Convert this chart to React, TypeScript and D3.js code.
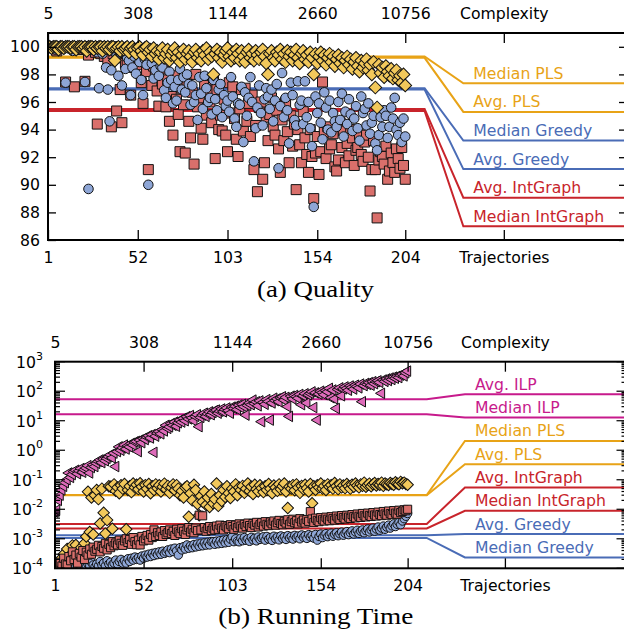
import React, { useEffect, useRef } from 'react';
import * as d3 from 'd3';

// trajectory index ticks (bottom) and complexity labels (top)
const trajTicks = [1, 52, 103, 154, 204];
const complexityLabels = ['5', '308', '1144', '2660', '10756'];
const nameTick = 260;

// (a) quality in %, one value per trajectory 1..204
const qualityPLS = [
  100, 100, 99.9, 100, 100, 100, 99.8, 100, 100, 99.9, 100, 100,
  100, 99.9, 100, 100, 99.8, 100, 100, 100, 99.9, 100, 99.7, 100,
  100, 100, 99.8, 100, 99.9, 100, 100, 99.7, 100, 99.9, 100, 99.8,
  100, 100, 99.0, 99.9, 100, 99.7, 100, 99.8, 99.9, 100, 99.6, 99.9,
  100, 99.8, 99.5, 99.9, 100, 99.7, 99.4, 99.9, 100, 99.6, 99.8, 99.3,
  99.9, 99.5, 99.7, 99.1, 99.6, 99.9, 99.2, 99.5, 99.8, 99.0, 99.4, 99.7,
  99.9, 99.2, 99.6, 98.9, 99.4, 99.8, 99.1, 99.5, 99.7, 99.3, 98.9, 99.6,
  99.8, 99.2, 99.5, 99.0, 99.7, 99.4, 99.9, 99.1, 99.6, 99.3, 98.0, 99.5,
  99.8, 99.2, 99.6, 98.9, 99.4, 99.7, 99.9, 99.3, 99.0, 99.6, 99.2, 99.8,
  99.5, 99.0, 99.7, 99.3, 98.9, 99.6, 99.8, 99.2, 99.5, 99.0, 99.7, 99.4,
  99.1, 99.6, 99.8, 99.3, 98.8, 98.0, 99.5, 99.7, 99.2, 99.0, 99.6, 99.4,
  99.8, 99.1, 99.5, 98.9, 99.7, 99.3, 99.6, 99.0, 99.4, 99.8, 99.2, 98.8,
  99.5, 99.7, 99.1, 99.4, 98.9, 99.6, 99.2, 98.0, 99.5, 98.8, 99.3, 99.6,
  99.0, 99.4, 98.7, 99.2, 99.5, 98.9, 99.3, 98.6, 99.1, 99.4, 98.8, 99.2,
  98.5, 99.0, 99.3, 98.7, 99.1, 98.4, 98.9, 99.2, 98.6, 98.2, 99.0, 98.5,
  98.8, 99.1, 98.3, 98.7, 98.0, 98.9, 97.05, 95.6, 98.7, 98.1, 98.5, 97.8,
  98.6, 98.2, 97.9, 98.4, 97.7, 98.1, 98.3, 97.6, 97.9, 97.4, 98.0, 97.2,
];
const qualityGreedy = [
  100, 100, 100, 100, 99.8, 100, 100, 100, 100, 99.9, 97.4, 100,
  100, 100, 99.7, 100, 100, 100, 99.9, 100, 100, 97.45, 100, 89.7,
  100, 99.8, 100, 100, 99.6, 97.0, 100, 99.5, 100, 98.5, 96.9, 94.6,
  98.3, 99.7, 100, 99.4, 97.9, 99.6, 97.2, 99.8, 98.4, 99.2, 99.0, 96.5,
  98.5, 99.3, 98.05, 99.6, 98.9, 97.6, 96.5, 99.1, 98.7, 90.0, 99.5, 98.8,
  97.7, 98.3, 99.2, 97.9, 98.6, 98.5, 96.85, 96.3, 97.4, 98.2, 97.6, 95.9,
  97.1, 96.1, 97.6, 98.4, 96.9, 97.8, 96.7, 98.0, 97.3, 95.8, 97.2, 96.0,
  96.5, 94.7, 97.8, 96.6, 95.5, 97.9, 97.0, 96.0, 96.3, 95.1, 97.6, 96.2,
  95.4, 96.9, 97.3, 94.9, 96.5, 95.7, 96.1, 95.3, 97.8, 96.4, 94.8, 94.2,
  95.9, 95.8, 97.1, 93.1, 96.7, 95.0, 96.3, 97.8, 96.0, 91.7, 94.1, 95.6,
  97.2, 95.2, 94.3, 96.2, 97.0, 96.4, 95.5, 96.9, 94.6, 96.1, 97.3, 91.2,
  95.7, 98.1, 94.9, 96.3, 95.4, 93.0, 97.4, 96.5, 94.7, 94.3, 97.5, 95.8,
  96.1, 94.4, 97.5, 94.9, 96.0, 94.1, 92.8, 88.4, 96.4, 95.2, 95.9, 94.5,
  93.3, 96.7, 95.6, 94.0, 96.1, 93.8, 95.2, 94.6, 94.2, 96.0, 94.7, 96.6,
  93.5, 95.3, 94.4, 96.2, 95.1, 93.9, 94.8, 95.7, 94.1, 93.2, 96.4, 95.2,
  95.5, 94.3, 95.9, 93.7, 94.5, 95.0, 93.0, 92.5, 93.6, 94.9, 94.2, 95.4,
  95.0, 93.4, 94.2, 95.6, 94.8, 96.3, 94.0, 93.6, 94.5, 93.1, 94.8, 93.5,
];
const qualityIntGraph = [
  100, 100, 100, 100, 100, 99.7, 100, 100, 100, 100, 97.45, 100,
  100, 100, 100, 97.1, 100, 100, 99.8, 100, 100, 97.5, 100, 99.4,
  100, 100, 100, 99.6, 94.4, 100, 99.5, 100, 99.3, 100, 99.1, 99.8,
  94.2, 99.5, 100, 95.35, 99.2, 96.9, 94.5, 99.6, 98.8, 99.0, 99.4, 96.5,
  99.2, 98.5, 99.0, 99.5, 98.7, 97.4, 95.9, 99.0, 98.2, 91.1, 99.3, 97.2,
  98.6, 97.9, 96.8, 95.7, 98.4, 97.3, 98.9, 95.65, 97.6, 94.6, 96.4, 93.6,
  97.9, 96.2, 95.1, 92.4, 97.0, 95.8, 92.3, 97.5, 94.6, 93.4, 96.7, 91.5,
  98.0, 95.65, 96.3, 94.1, 93.3, 97.2, 95.05, 96.8, 96.0, 94.5, 97.6, 91.9,
  96.9, 94.0, 95.05, 93.9, 96.2, 93.6, 92.4, 97.4, 95.2, 97.1, 94.8, 93.3,
  92.05, 95.5, 96.9, 93.9, 97.0, 94.6, 95.9, 93.5, 96.5, 91.1, 94.3, 89.5,
  95.6, 96.0, 90.4, 91.6, 94.9, 93.2, 95.1, 96.3, 94.2, 93.6, 95.4, 92.6,
  90.9, 94.7, 93.2, 96.0, 93.85, 91.6, 95.0, 92.8, 94.4, 89.65, 94.0, 92.9,
  91.6, 95.3, 93.4, 92.2, 90.9, 94.0, 92.05, 89.0, 92.3, 93.5, 90.75, 92.4,
  97.45, 93.8, 91.9, 94.2, 92.6, 92.9, 93.7, 91.3, 91.0, 91.8, 94.5, 92.7,
  93.9, 91.6, 93.0, 92.1, 94.0, 93.4, 91.4, 92.5, 92.7, 93.6, 92.2, 91.7,
  93.1, 93.6, 92.0, 89.55, 91.1, 93.2, 91.1, 87.6, 91.8, 92.4, 92.05, 91.5,
  92.8, 90.4, 91.0, 92.3, 91.6, 90.9, 92.6, 91.9, 91.2, 92.7, 91.4, 90.4,
];

// (b) running time in seconds, one value per trajectory 1..204
const timeILP = [
  0.008, 0.0093, 0.02, 0.03, 0.045, 0.06, 0.08, 0.1, 0.17, 0.12, 0.15, 0.19,
  0.21, 0.16, 0.2, 0.24, 0.18, 0.22, 0.25, 0.3, 0.17, 0.26, 0.32, 0.28,
  0.36, 0.42, 0.47, 0.38, 0.5, 0.44, 0.53, 0.6, 0.7, 0.55, 0.8, 0.28,
  0.9, 1.3, 1.0, 1.2, 1.5, 1.1, 1.4, 1.3, 1.7, 1.5, 1.9, 2.0,
  0.9, 2.2, 1.8, 2.5, 2.3, 2.8, 3.1, 2.6, 3.4, 0.85, 3.0, 3.8,
  4.3, 3.6, 5.0, 4.5, 7.0, 5.5, 6.2, 8.0, 7.0, 9.0, 6.5, 8.5,
  10.5, 9.0, 12, 10, 13.7, 11.5, 15, 12.5, 10, 14, 16, 6.3,
  13, 15.5, 18, 14, 17, 20, 16, 19, 22, 23, 18, 21,
  25, 20, 24, 27, 22, 18, 29, 26, 31, 24, 34, 28,
  36, 30, 15.5, 33, 40, 35, 50, 38, 44, 32, 47, 9.3,
  42, 36, 52, 45, 10.5, 40, 58, 48, 55, 44, 60, 65,
  50, 62, 30, 14, 68, 55, 72, 65, 58, 78, 35, 70,
  82, 40, 75, 85, 95, 28, 88, 10.5, 80, 100, 90, 76,
  105, 95, 125, 60, 110, 55, 26, 115, 130, 70, 120, 140,
  125, 108, 150, 135, 118, 160, 145, 130, 175, 44, 155, 185,
  170, 195, 160, 210, 180, 210, 225, 200, 85, 240, 215, 260,
  230, 280, 250, 300, 275, 320, 290, 350, 380, 330, 420, 480,
];
const timePLS = [
  1.2e-4, 1.5e-4, 1.1e-4, 2e-4, 1.3e-4, 3e-4, 1.6e-4, 4.5e-4, 2.5e-4, 1.8e-4, 6e-4, 3.5e-4,
  6.2e-4, 2.8e-4, 4e-4, 5e-4, 3e-4, 7e-4, 1.2e-3, 0.039, 1.7e-3, 0.025, 1.4e-3, 0.03,
  0.045, 0.022, 3.3e-3, 0.05, 7.6e-3, 1.5e-3, 4.3e-3, 0.06, 0.058, 2.2e-3, 0.07, 0.042,
  0.055, 0.035, 0.065, 0.05, 0.072, 2.1e-3, 0.045, 0.06, 0.038, 0.075, 0.055, 0.068,
  0.048, 0.076, 0.058, 0.04, 0.066, 0.05, 0.072, 0.035, 0.06, 0.045, 0.07, 0.052,
  0.065, 0.04, 0.058, 0.074, 0.048, 0.062, 0.036, 0.055, 0.07, 0.044, 0.066, 0.05,
  0.03, 0.042, 0.025, 0.055, 0.06, 5.6e-3, 0.035, 0.02, 0.068, 0.045, 0.015, 6.3e-3,
  0.028, 0.018, 0.04, 0.014, 0.025, 0.012, 0.033, 0.016, 0.022, 0.075, 0.013, 0.03,
  0.019, 0.045, 0.026, 0.06, 0.035, 0.024, 0.05, 0.04, 0.07, 0.03, 0.055, 0.045,
  0.062, 0.036, 0.05, 0.075, 0.042, 0.058, 0.033, 0.068, 0.048, 0.04, 0.065, 0.052,
  0.038, 0.06, 0.045, 0.072, 0.05, 0.035, 0.064, 0.055, 0.042, 0.07, 0.048, 0.06,
  0.075, 0.04, 0.011, 0.058, 0.05, 0.066, 0.044, 0.07, 0.055, 0.036, 0.062, 0.048,
  0.068, 0.052, 0.04, 0.072, 0.016, 0.06, 0.046, 0.065, 0.055, 0.075, 0.05, 0.062,
  0.045, 0.07, 0.058, 0.066, 0.05, 0.078, 0.06, 0.048, 0.07, 0.055, 0.064, 0.052,
  0.072, 0.06, 0.05, 0.068, 0.058, 0.075, 0.064, 0.055, 0.07, 0.062, 0.08, 0.058,
  0.066, 0.074, 0.06, 0.07, 0.078, 0.064, 0.072, 0.068, 0.08, 0.062, 0.075, 0.07,
  0.066, 0.078, 0.072, 0.068, 0.082, 0.074, 0.07, 0.085, 0.076, 0.08, 0.072, 0.068,
];
const timeIntGraph = [
  1.1e-4, 1.3e-4, 1.2e-4, 1.6e-4, 1.2e-4, 2.2e-4, 1.4e-4, 1.3e-4, 2.5e-4, 1.8e-4, 3.6e-4, 2e-4,
  2.8e-4, 1.5e-4, 3.2e-4, 2.4e-4, 4e-4, 2e-4, 3.5e-4, 2.8e-4, 4.5e-4, 3e-4, 5.2e-4, 3.8e-4,
  4.4e-4, 6e-4, 3.6e-4, 5.5e-4, 4.8e-4, 7e-4, 4.2e-4, 6.5e-4, 5e-4, 8e-4, 5.8e-4, 7.2e-4,
  6.2e-4, 9e-4, 7e-4, 6e-4, 8.5e-4, 1.0e-3, 7.5e-4, 9.5e-4, 6.5e-4, 1.1e-3, 8e-4, 6.3e-4,
  9e-4, 6.2e-4, 1.2e-3, 8.5e-4, 1.0e-3, 1.3e-3, 9e-4, 1.4e-3, 1.1e-3, 2.0e-3, 1.2e-3, 1.6e-3,
  1.3e-3, 1.7e-3, 1.2e-3, 1.9e-3, 1.4e-3, 1.6e-3, 2.0e-3, 1.5e-3, 1.8e-3, 1.3e-3, 2.1e-3, 1.7e-3,
  1.5e-3, 2.2e-3, 1.8e-3, 1.4e-3, 2.0e-3, 2.4e-3, 1.7e-3, 2.1e-3, 1.6e-3, 2.3e-3, 1.9e-3, 6.3e-3,
  2.0e-3, 6e-3, 2.4e-3, 1.8e-3, 2.2e-3, 2.6e-3, 1.9e-3, 2.3e-3, 2.0e-3, 2.7e-3, 2.1e-3, 2.9e-3,
  2.3e-3, 2.0e-3, 2.8e-3, 2.5e-3, 2.2e-3, 3.0e-3, 2.6e-3, 2.1e-3, 2.9e-3, 2.4e-3, 3.2e-3, 2.7e-3,
  2.3e-3, 3.1e-3, 2.6e-3, 3.4e-3, 2.8e-3, 2.4e-3, 3.3e-3, 2.9e-3, 3.6e-3, 2.5e-3, 3.0e-3, 3.5e-3,
  2.7e-3, 3.8e-3, 3.1e-3, 2.8e-3, 3.7e-3, 3.2e-3, 4.0e-3, 2.9e-3, 3.5e-3, 4.2e-3, 3.3e-3, 3.0e-3,
  3.9e-3, 3.4e-3, 4.4e-3, 3.1e-3, 3.8e-3, 4.6e-3, 3.5e-3, 4.1e-3, 3.2e-3, 4.8e-3, 3.7e-3, 4.3e-3,
  3.4e-3, 4.5e-3, 3.9e-3, 8.3e-3, 4.7e-3, 3.6e-3, 5.0e-3, 4.2e-3, 3.8e-3, 5.2e-3, 4.4e-3, 4.0e-3,
  5.4e-3, 4.6e-3, 4.1e-3, 5.6e-3, 4.8e-3, 4.3e-3, 5.9e-3, 5.0e-3, 4.5e-3, 6.1e-3, 5.2e-3, 4.7e-3,
  6.3e-3, 5.4e-3, 4.9e-3, 6.6e-3, 5.6e-3, 5.1e-3, 6.9e-3, 5.8e-3, 5.3e-3, 7.2e-3, 6.0e-3, 5.5e-3,
  7.4e-3, 6.2e-3, 5.7e-3, 7.7e-3, 6.4e-3, 5.9e-3, 8.0e-3, 6.6e-3, 6.1e-3, 8.4e-3, 6.9e-3, 6.3e-3,
  8.7e-3, 7.1e-3, 6.6e-3, 9.0e-3, 7.4e-3, 6.8e-3, 9.3e-3, 7.7e-3, 8.5e-3, 9.6e-3, 8.9e-3, 1.0e-2,
];
const timeGreedy = [
  1.0e-4, 1.1e-4, 1.0e-4, 1.2e-4, 1.0e-4, 1.1e-4, 1.3e-4, 1.0e-4, 1.2e-4, 1.1e-4, 1.4e-4, 1.0e-4,
  1.2e-4, 1.1e-4, 1.3e-4, 1.0e-4, 1.5e-4, 1.2e-4, 1.1e-4, 1.4e-4, 1.2e-4, 1.6e-4, 1.3e-4, 1.1e-4,
  1.4e-4, 1.2e-4, 1.7e-4, 1.3e-4, 1.5e-4, 1.2e-4, 1.8e-4, 1.4e-4, 1.6e-4, 1.3e-4, 1.5e-4, 1.9e-4,
  1.4e-4, 1.7e-4, 2.0e-4, 1.5e-4, 1.8e-4, 1.5e-4, 2.1e-4, 1.7e-4, 2.2e-4, 1.9e-4, 2.4e-4, 2.0e-4,
  2.3e-4, 1.9e-4, 2.6e-4, 2.2e-4, 2.8e-4, 2.4e-4, 3.0e-4, 2.5e-4, 3.2e-4, 2.7e-4, 3.4e-4, 2.9e-4,
  3.6e-4, 3.0e-4, 3.8e-4, 3.2e-4, 3.6e-4, 4.2e-4, 3.4e-4, 4.5e-4, 3.7e-4, 4.8e-4, 3.9e-4, 2.8e-4,
  5.0e-4, 4.2e-4, 5.4e-4, 4.5e-4, 6.2e-4, 4.8e-4, 5.8e-4, 5.0e-4, 6.4e-4, 5.3e-4, 6.7e-4, 5.6e-4,
  7.0e-4, 5.8e-4, 7.3e-4, 6.1e-4, 7.6e-4, 6.2e-4, 8.0e-4, 7.9e-4, 6.5e-4, 8.3e-4, 6.8e-4, 8.6e-4,
  7.0e-4, 9.0e-4, 7.3e-4, 9.3e-4, 7.6e-4, 9.7e-4, 1.17e-3, 8.0e-4, 1.0e-3, 8.3e-4, 7.9e-4, 1.05e-3,
  8.6e-4, 1.1e-3, 8.9e-4, 1.0e-3, 8.2e-4, 1.12e-3, 9.2e-4, 1.05e-3, 8.5e-4, 1.15e-3, 9.5e-4, 1.08e-3,
  1.17e-3, 9.0e-4, 1.2e-3, 9.8e-4, 1.1e-3, 8.8e-4, 1.22e-3, 1.0e-3, 1.15e-3, 9.2e-4, 1.25e-3, 1.03e-3,
  1.18e-3, 9.5e-4, 1.28e-3, 1.06e-3, 1.2e-3, 9.8e-4, 1.3e-3, 1.1e-3, 1.24e-3, 1.0e-3, 1.35e-3, 1.12e-3,
  1.27e-3, 1.03e-3, 1.38e-3, 1.15e-3, 1.3e-3, 1.05e-3, 1.4e-3, 9.0e-4, 1.2e-3, 1.45e-3, 1.1e-3, 1.33e-3,
  1.5e-3, 1.18e-3, 1.37e-3, 1.55e-3, 1.22e-3, 1.42e-3, 1.6e-3, 1.27e-3, 1.48e-3, 1.68e-3, 1.32e-3, 1.55e-3,
  1.75e-3, 1.38e-3, 1.62e-3, 1.85e-3, 1.45e-3, 1.7e-3, 1.95e-3, 1.52e-3, 1.8e-3, 2.0e-3, 1.6e-3, 1.9e-3,
  2.15e-3, 1.7e-3, 2.0e-3, 2.3e-3, 1.8e-3, 2.15e-3, 2.5e-3, 1.95e-3, 2.3e-3, 2.7e-3, 2.1e-3, 2.5e-3,
  2.9e-3, 2.3e-3, 2.75e-3, 3.2e-3, 2.6e-3, 3.1e-3, 3.6e-3, 3.0e-3, 4.0e-3, 4.8e-3, 5.8e-3, 7.2e-3,
];

// summary lines (legend order top to bottom)
const qualityStatLabels = ['Median PLS', 'Avg. PLS', 'Median Greedy', 'Avg. Greedy', 'Avg. IntGraph', 'Median IntGraph'];
const qualityStatAlgos = ['PLS', 'PLS', 'Greedy', 'Greedy', 'IntGraph', 'IntGraph'];
const qualityStatValues = [99.3, 99.2, 97.0, 96.9, 95.5, 95.35];

const timeStatLabels = ['Avg. ILP', 'Median ILP', 'Median PLS', 'Avg. PLS', 'Avg. IntGraph', 'Median IntGraph', 'Avg. Greedy', 'Median Greedy'];
const timeStatAlgos = ['ILP', 'ILP', 'PLS', 'PLS', 'IntGraph', 'IntGraph', 'Greedy', 'Greedy'];
const timeStatValues = [53, 16.6, 0.0305, 0.03, 0.0032, 0.00225, 0.00133, 0.00107];

const lineColor = { PLS: '#e8a317', Greedy: '#4a6cb6', IntGraph: '#c8242b', ILP: '#c71a8c' };
const fillColor = { PLS: '#f2c85b', Greedy: '#8ea6d6', IntGraph: '#d96f6b', ILP: '#dd6bb9' };
const FONT = '"DejaVu Sans", sans-serif';

function drawPanel(svg, cfg) {
  const { id, x, y, left, right, top, bottom, series, labels, algos, values, slot0, slotStep, topPad, bottomPad } = cfg;
  const g = svg.append('g');
  g.append('clipPath').attr('id', id)
    .append('rect').attr('x', left).attr('y', top).attr('width', right - left).attr('height', bottom - top);

  // summary lines bending out to the labels
  const line = d3.line();
  values.forEach((v, i) => {
    const sy = slot0 + i * slotStep;
    const pts = [[left, y(v)], [x(215), y(v)], [x(237), sy], [right + 10, sy]];
    g.append('path').attr('d', line(pts))
      .attr('fill', 'none').attr('stroke', lineColor[algos[i]]).attr('stroke-width', 2);
    g.append('text')
      .attr('x', x(237) + 10).attr('y', sy - 4.5)
      .attr('fill', lineColor[algos[i]])
      .style('font-family', FONT).style('font-size', '15.7px')
      .text(labels[i]);
  });

  const mg = g.append('g').attr('clip-path', `url(#${id})`);
  series.forEach(s => {
    const sym = d3.symbol().type(s.type).size(s.size);
    mg.append('g').selectAll('path').data(s.values).join('path')
      .attr('d', sym)
      .attr('transform', (d, i) => `translate(${x(i + 1)},${y(d)}) rotate(${s.rotate || 0})`)
      .attr('fill', fillColor[s.algo])
      .attr('stroke', '#111').attr('stroke-width', 1);
  });

  const ticks = [...trajTicks, nameTick];
  const styleAxis = a => {
    a.select('.domain').remove();
    a.attr('font-size', null).attr('font-family', null);
    a.selectAll('text').style('font-family', FONT).style('font-size', '15.7px');
    a.selectAll('line').attr('stroke-width', 1.3);
  };
  g.append('g').attr('transform', `translate(0,${bottom})`)
    .call(d3.axisBottom(x).tickValues(ticks).tickSize(-10).tickPadding(bottomPad)
      .tickFormat((d, i) => (i < trajTicks.length ? String(trajTicks[i]) : 'Trajectories')))
    .call(styleAxis);
  g.append('g').attr('transform', `translate(0,${top})`)
    .call(d3.axisTop(x).tickValues(ticks).tickSize(-10).tickPadding(topPad)
      .tickFormat((d, i) => (i < complexityLabels.length ? complexityLabels[i] : 'Complexity')))
    .call(styleAxis);

  cfg.yAxis(g, styleAxis);

  g.append('rect').attr('x', left).attr('y', top).attr('width', right - left).attr('height', bottom - top)
    .attr('fill', 'none').attr('stroke', '#000').attr('stroke-width', 2);
}

export default function App() {
  const svgRef = useRef(null);

  useEffect(() => {
    const svg = d3.select(svgRef.current);
    svg.selectAll('*').remove();

    // ---- (a) Quality
    const xa = d3.scaleLinear().domain([1, 330]).range([48, 627]);
    const ya = d3.scaleLinear().domain([86, 101]).range([240, 33]);
    drawPanel(svg, {
      id: 'clipA', x: xa, y: ya, left: 48, right: 627, top: 33, bottom: 240,
      series: [
        { values: qualityIntGraph, algo: 'IntGraph', type: d3.symbolSquare, size: 100 },
        { values: qualityGreedy, algo: 'Greedy', type: d3.symbolCircle, size: 72 },
        { values: qualityPLS, algo: 'PLS', type: d3.symbolSquare, size: 81, rotate: 45 },
      ],
      labels: qualityStatLabels, algos: qualityStatAlgos, values: qualityStatValues,
      slot0: 83.3, slotStep: 28.6, topPad: 14, bottomPad: 12,
      yAxis: (g, styleAxis) => {
        const t = d3.range(86, 101, 2);
        g.append('g').attr('transform', 'translate(48,0)')
          .call(d3.axisLeft(ya).tickValues(t).tickSize(-8).tickPadding(8)).call(styleAxis);
        g.append('g').attr('transform', 'translate(627,0)')
          .call(d3.axisRight(ya).tickValues(t).tickSize(-8).tickFormat(() => '')).call(styleAxis);
      },
    });
    svg.append('text').attr('x', 315.5).attr('y', 297).attr('text-anchor', 'middle')
      .attr('textLength', 117).attr('lengthAdjust', 'spacingAndGlyphs')
      .style('font-family', '"Liberation Serif", serif').style('font-size', '23px')
      .text('(a) Quality');

    // ---- (b) Running Time
    const xb = d3.scaleLinear().domain([1, 330]).range([55, 626.5]);
    const yb = d3.scaleLog().domain([1e-4, 1e3]).range([568.3, 361.7]);
    drawPanel(svg, {
      id: 'clipB', x: xb, y: yb, left: 55, right: 626.5, top: 361.7, bottom: 568.3,
      series: [
        { values: timeILP, algo: 'ILP', type: d3.symbolTriangle, size: 48, rotate: -90 },
        { values: timePLS, algo: 'PLS', type: d3.symbolSquare, size: 66, rotate: 45 },
        { values: timeGreedy, algo: 'Greedy', type: d3.symbolCircle, size: 56 },
        { values: timeIntGraph, algo: 'IntGraph', type: d3.symbolSquare, size: 66 },
      ],
      labels: timeStatLabels, algos: timeStatAlgos, values: timeStatValues,
      slot0: 394.3, slotStep: 23.3, topPad: 14, bottomPad: 11.5,
      yAxis: g => {
        const ticks = [];
        for (let k = -4; k <= 3; k++) {
          for (let m = 1; m <= 9; m++) {
            if (k === 3 && m > 1) break;
            ticks.push({ v: m * Math.pow(10, k), major: m === 1 });
          }
        }
        g.append('g').selectAll('line').data(ticks).join('line')
          .attr('x1', 55).attr('x2', d => 55 + (d.major ? 10 : 5))
          .attr('y1', d => yb(d.v)).attr('y2', d => yb(d.v))
          .attr('stroke', '#000').attr('stroke-width', 1.2);
        g.append('g').selectAll('line').data(ticks).join('line')
          .attr('x1', 626.5).attr('x2', d => 626.5 - (d.major ? 10 : 5))
          .attr('y1', d => yb(d.v)).attr('y2', d => yb(d.v))
          .attr('stroke', '#000').attr('stroke-width', 1.2);
        const lab = g.append('g').selectAll('text').data(ticks.filter(d => d.major)).join('text')
          .attr('x', 43).attr('y', d => yb(d.v) + 6)
          .attr('text-anchor', 'end')
          .style('font-family', FONT).style('font-size', '15.7px');
        lab.append('tspan').text('10');
        lab.append('tspan').attr('dy', -8).style('font-size', '11px')
          .text(d => String(Math.round(Math.log10(d.v))));
      },
    });
    svg.append('text').attr('x', 315.8).attr('y', 623.5).attr('text-anchor', 'middle')
      .attr('textLength', 195).attr('lengthAdjust', 'spacingAndGlyphs')
      .style('font-family', '"Liberation Serif", serif').style('font-size', '23px')
      .text('(b) Running Time');
  }, []);

  return (
    <svg ref={svgRef} width={624} height={633}
      style={{ position: 'absolute', left: 0, top: 0, background: '#fff' }} />
  );
}
